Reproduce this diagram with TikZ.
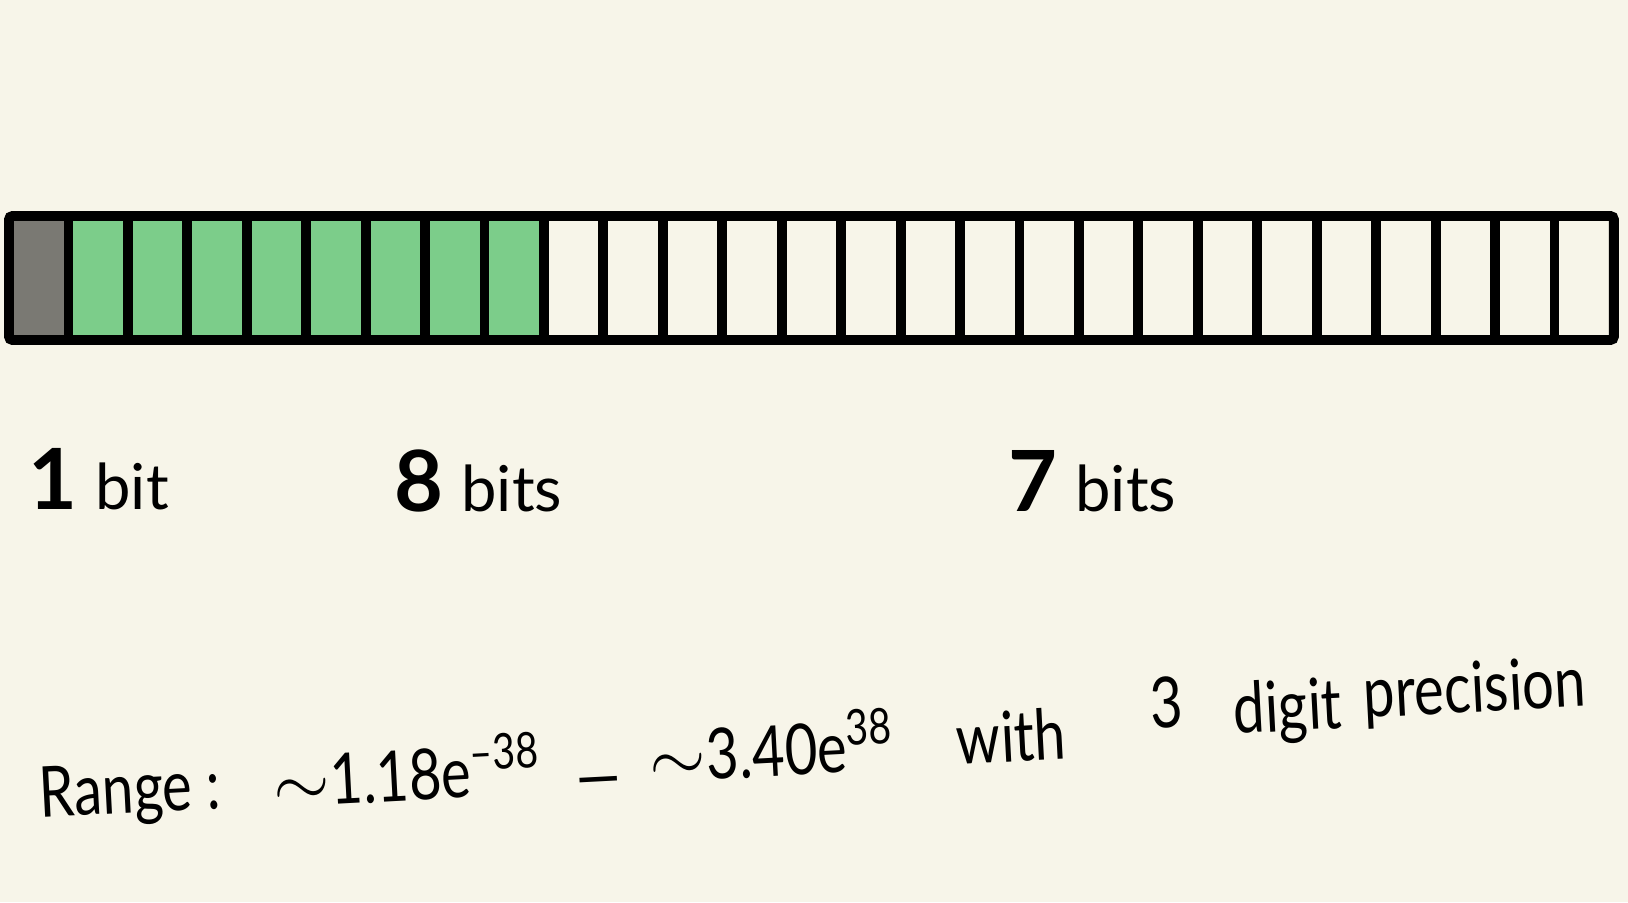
\documentclass[tikz,border=0pt]{standalone}
\usepackage{fontspec}
\setmainfont{Lato}
\newfontfamily\handfont[FakeStretch=0.8]{Lato}
\usetikzlibrary{calc}
\definecolor{paper}{RGB}{247,245,233}
\definecolor{signgray}{RGB}{122,121,115}
\definecolor{expgreen}{RGB}{124,205,138}
\tikzset{
	bitlbl/.style={anchor=base west,inner sep=0pt,font=\fontsize{18}{22}\selectfont},
	rangelbl/.style={anchor=base west,inner sep=0pt,rotate=3,font=\fontsize{20}{24}\selectfont\handfont}
}
\newcommand{\bigdigit}[1]{{\fontsize{24}{28}\selectfont\bfseries #1}\hspace{5pt}}

\begin{document}
\begin{tikzpicture}[x=0.01cm,y=-0.01cm,line width=2.8pt]
\fill[paper] (0,0) rectangle (1628,902);
\useasboundingbox (0,0) rectangle (1628,902);
\foreach \i in {0,...,27}{
	\coordinate(t\i) at (9+\i*59.44,216);
	\coordinate(b\i) at (9+\i*59.44,340);
}
\fill[signgray] (t0) rectangle (b1);
\fill[expgreen] (t1) rectangle (b9);
\foreach \i in {1,...,26}{
	\draw (t\i)--(b\i);
}
\draw[rounded corners=1pt] (t0) rectangle (b27);

\node[bitlbl] (sign) at (24,509) {\bigdigit{1}bit};
\node[bitlbl] (exponent) at (390,511) {\bigdigit{8}bits};
\node[bitlbl] (mantissa) at (1004,511) {\bigdigit{7}bits};

\node[rangelbl] (range) at (36,818) {Range :};
\node[rangelbl] (low) at (270,808) {$\sim$1.18e\textsuperscript{\textendash38}};
\node[rangelbl,anchor=base] (dash) at (600,800) {\textemdash};
\node[rangelbl] (high) at (646,783) {$\sim$3.40e\textsuperscript{38}};
\node[rangelbl] (with) at (953,765) {with};
\node[rangelbl] (three) at (1147,729) {3};
\node[rangelbl] (digit) at (1230,734) {digit};
\node[rangelbl] (precision) at (1360,718) {precision};
\end{tikzpicture}
\end{document}
